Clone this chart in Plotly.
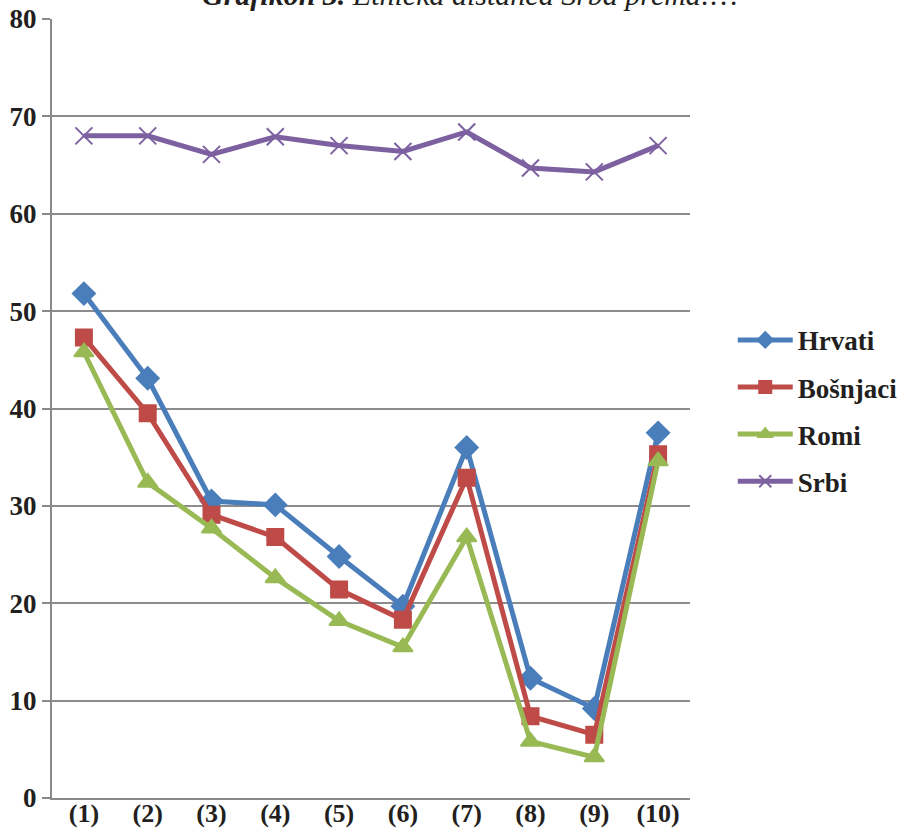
import plotly.graph_objects as go

categories = ['(1)', '(2)', '(3)', '(4)', '(5)', '(6)', '(7)', '(8)', '(9)', '(10)']
hrvati = [51.8, 43.1, 30.5, 30.1, 24.8, 19.7, 36.0, 12.3, 9.2, 37.5]
bosnjaci = [47.3, 39.5, 29.1, 26.8, 21.4, 18.3, 32.9, 8.4, 6.5, 35.3]
romi = [45.8, 32.4, 27.7, 22.6, 18.2, 15.5, 26.8, 5.8, 4.2, 34.6]
srbi = [68.0, 68.0, 66.1, 67.9, 67.0, 66.4, 68.4, 64.7, 64.3, 67.0]

series = [
    ('Hrvati', hrvati, '#4A7EBB', 'diamond', 17),
    ('Bošnjaci', bosnjaci, '#BE4B48', 'square', 16),
    ('Romi', romi, '#98B954', 'triangle-up', 17),
    ('Srbi', srbi, '#7D60A0', 'x-thin-open', 17),
]

serif = '"Liberation Serif", "DejaVu Serif", serif'

fig = go.Figure()
for name, vals, color, sym, size in series:
    fig.add_trace(go.Scatter(
        x=categories, y=vals, name=name, mode='lines+markers',
        legendgroup=name,
        line=dict(color=color, width=5),
        marker=dict(symbol=sym, size=size, color=color,
                    line=dict(color=color, width=2)),
    ))

# title is cut off at the top edge, as in the source
fig.add_annotation(
    text='<b>Grafikon 3.</b> Etnička distanca Srba prema:…',
    xref='paper', yref='paper', x=0.655, y=1.008,
    xanchor='center', yanchor='bottom', showarrow=False,
    font=dict(family=serif, size=30, color='#231f20', style='italic'),
)

fig.update_layout(
    width=904, height=828,
    margin=dict(l=52, r=214, t=19, b=30, autoexpand=False),
    plot_bgcolor='white', paper_bgcolor='white',
    font=dict(family=serif, size=26, color='#231f20'),
    legend=dict(x=1.067, y=0.497, xanchor='left', yanchor='middle',
                font=dict(family=serif, size=27, weight='bold', color='#231f20'),
                tracegroupgap=9, itemwidth=55, itemsizing='constant'),
    xaxis=dict(range=[-0.5, 9.5], showgrid=False, showline=True,
               linecolor='#898989', linewidth=2,
               ticks='', automargin=False, ticklabelstandoff=-9,
               tickfont=dict(family=serif, size=26, weight='bold')),
    yaxis=dict(range=[0, 80], dtick=10, showgrid=True, gridcolor='#8c8c8c',
               gridwidth=2, showline=True, linecolor='#898989', linewidth=2,
               ticks='outside', ticklen=8, tickcolor='#898989', tickwidth=2,
               zeroline=False, automargin=False,
               tickfont=dict(family=serif, size=27, weight='bold')),
)

fig.write_html('out.html', config={'displayModeBar': False},
               post_script="document.body.style.margin='0';")
